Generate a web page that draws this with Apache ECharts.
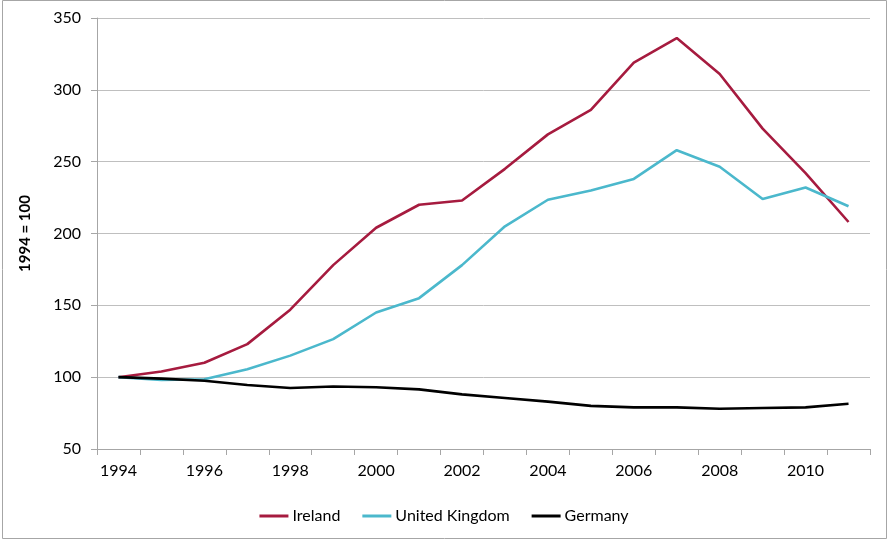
<!DOCTYPE html>
<html><head><meta charset="utf-8">
<script src="https://cdn.jsdelivr.net/npm/echarts@6/dist/echarts.min.js"></script>
<style>html,body{margin:0;padding:0;background:#fff}#c{width:888px;height:540px}</style>
</head><body><div id="c"></div>
<script>
const years = ['1994','1995','1996','1997','1998','1999','2000','2001','2002','2003','2004','2005','2006','2007','2008','2009','2010','2011'];
const ireland = [100,104,110,123,147,178,204,220,223,245,269,286,319,336,311,273,242,208];
const uk = [100,98,98.5,105.5,115,126.5,145,155,178,205,223.5,230,238,258,246.5,224,232,219];
const germany = [100,99,97.5,94.5,92.5,93.5,93,91.5,88,85.5,83,80,79,79,78,78.5,79,81.5];
const yTicks = {min:50, max:350, interval:50};
const yName = '1994 = 100';

const chart = echarts.init(document.getElementById('c'));
const font = 'Lato, "Open Sans", sans-serif';
function line(name, data, color){
  return {name, type:'line', data, symbol:'none', smooth:false,
    lineStyle:{color, width:2.6}, itemStyle:{color}};
}
chart.setOption({
  animation:false,
  textStyle:{fontFamily:font},
  graphic:[{type:'rect', shape:{x:2.5,y:0.5,width:884,height:538}, style:{fill:'none', stroke:'#A6A6A6', lineWidth:1}, silent:true}],
  grid:{left:97, right:18, top:18, bottom:91},
  legend:{bottom:11, left:'center', itemWidth:29, itemHeight:3, itemGap:22, icon:'rect',
    textStyle:{fontFamily:font, fontSize:16, color:'#000', padding:[0,0,0,-1]},
    data:['Ireland','United Kingdom','Germany']},
  xAxis:{type:'category', data:years, boundaryGap:true,
    axisLine:{lineStyle:{color:'#A6A6A6', width:1}},
    axisTick:{show:true, interval:0, length:6, lineStyle:{color:'#A6A6A6'}},
    axisLabel:{interval:1, fontSize:16, color:'#000', margin:14, fontFamily:font}},
  yAxis:{type:'value', min:yTicks.min, max:yTicks.max, interval:yTicks.interval,
    name:yName, nameLocation:'middle', nameGap:64, nameRotate:90,
    nameTextStyle:{fontSize:15, fontWeight:'bold', color:'#000', fontFamily:font},
    axisLine:{show:true, lineStyle:{color:'#A6A6A6', width:1}},
    axisTick:{show:true, length:6, lineStyle:{color:'#A6A6A6'}},
    axisLabel:{fontSize:16, color:'#000', margin:16, fontFamily:font},
    splitLine:{lineStyle:{color:'#BFBFBF', width:1}}},
  series:[line('Ireland', ireland, '#A61B3F'), line('United Kingdom', uk, '#4BB8CC'), line('Germany', germany, '#000000')]
});
</script></body></html>
